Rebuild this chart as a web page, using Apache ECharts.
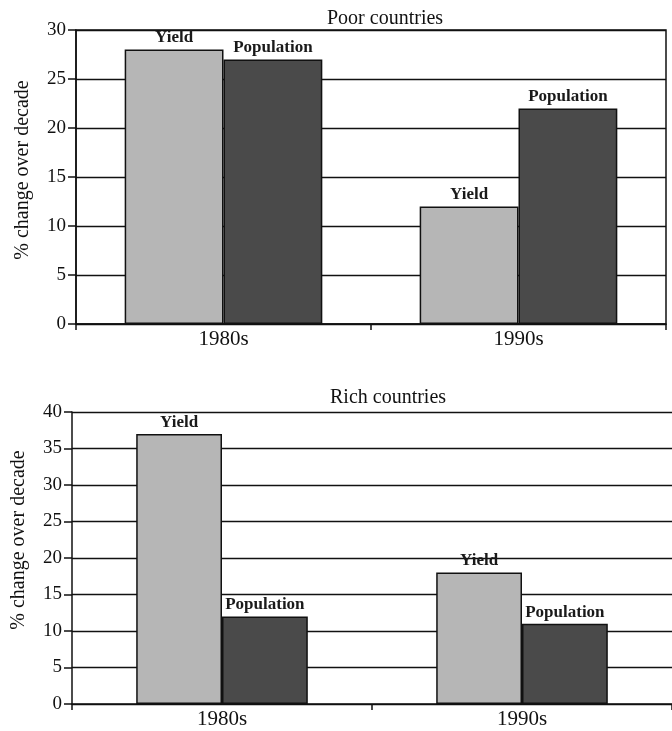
<!DOCTYPE html>
<html>
<head>
<meta charset="utf-8">
<script src="https://cdn.jsdelivr.net/npm/echarts@6/dist/echarts.min.js"></script>
<style>
  html, body { margin: 0; padding: 0; background: #fff; }
  #chart { width: 672px; height: 731px; }
</style>
</head>
<body>
<div id="chart"></div>
<script>
// Decades shown on both panels
const decades = ['1980s', '1990s'];

// Poor countries: % change over decade
const poorYield = [28, 12];
const poorPopulation = [27, 22];

// Rich countries: % change over decade
const richYield = [37, 18];
const richPopulation = [12, 11];

const FONT = "'Liberation Serif', 'Times New Roman', serif";
const INK = '#111';
const LIGHT = '#b6b6b6';
const DARK = '#4a4a4a';

function xAxisFor(gridIndex) {
  return {
    type: 'category',
    gridIndex,
    data: decades,
    boundaryGap: true,
    axisLine: { lineStyle: { color: INK, width: 1.5 } },
    axisTick: { show: true, inside: false, length: 6, lineStyle: { color: INK, width: 1.5 } },
    axisLabel: { color: INK, fontFamily: FONT, fontSize: 21, margin: 5 },
    splitLine: { show: false }
  };
}

function yAxisFor(gridIndex, max, namePadLeft) {
  return {
    type: 'value',
    gridIndex,
    min: 0,
    max,
    interval: 5,
    name: '% change over decade',
    nameLocation: 'middle',
    nameGap: 43,
    nameTextStyle: { color: INK, fontFamily: FONT, fontSize: 20, padding: [0, 0, 0, namePadLeft] },
    axisLine: { show: true, lineStyle: { color: INK, width: 1.5 } },
    axisTick: { show: true, inside: false, length: 8, lineStyle: { color: INK, width: 1.5 } },
    axisLabel: { color: INK, fontFamily: FONT, fontSize: 19, margin: 10 },
    splitLine: { show: true, lineStyle: { color: INK, width: 1.3 } }
  };
}

function barSeries(name, data, idx, color, width) {
  return {
    name,
    type: 'bar',
    xAxisIndex: idx,
    yAxisIndex: idx,
    data,
    barWidth: width,
    barGap: '0%',
    itemStyle: { color, borderColor: INK, borderWidth: 1.5 },
    label: {
      show: true,
      position: 'top',
      distance: 3,
      formatter: name,
      color: '#1a1a1a',
      fontFamily: FONT,
      fontSize: 17,
      fontWeight: 'bold'
    },
    emphasis: { disabled: true },
    animation: false
  };
}

const chart = echarts.init(document.getElementById('chart'), null, { renderer: 'canvas' });
chart.setOption({
  animation: false,
  backgroundColor: '#fff',
  title: [
    { text: 'Poor countries', left: 322, top: 4,
      textStyle: { color: INK, fontFamily: FONT, fontSize: 20, fontWeight: 'normal' } },
    { text: 'Rich countries', left: 325, top: 383,
      textStyle: { color: INK, fontFamily: FONT, fontSize: 20, fontWeight: 'normal' } }
  ],
  grid: [
    { left: 76, top: 30, width: 590, height: 294, show: true, borderColor: INK, borderWidth: 1.5, backgroundColor: 'transparent' },
    { left: 72, top: 412, width: 603, height: 292 }
  ],
  xAxis: [xAxisFor(0), xAxisFor(1)],
  yAxis: [yAxisFor(0, 30, 14), yAxisFor(1, 40, 36)],
  series: [
    barSeries('Yield', poorYield, 0, LIGHT, '33.5%'),
    barSeries('Population', poorPopulation, 0, DARK, '33.5%'),
    barSeries('Yield', richYield, 1, LIGHT, '28.6%'),
    barSeries('Population', richPopulation, 1, DARK, '28.6%')
  ]
});
</script>
</body>
</html>
